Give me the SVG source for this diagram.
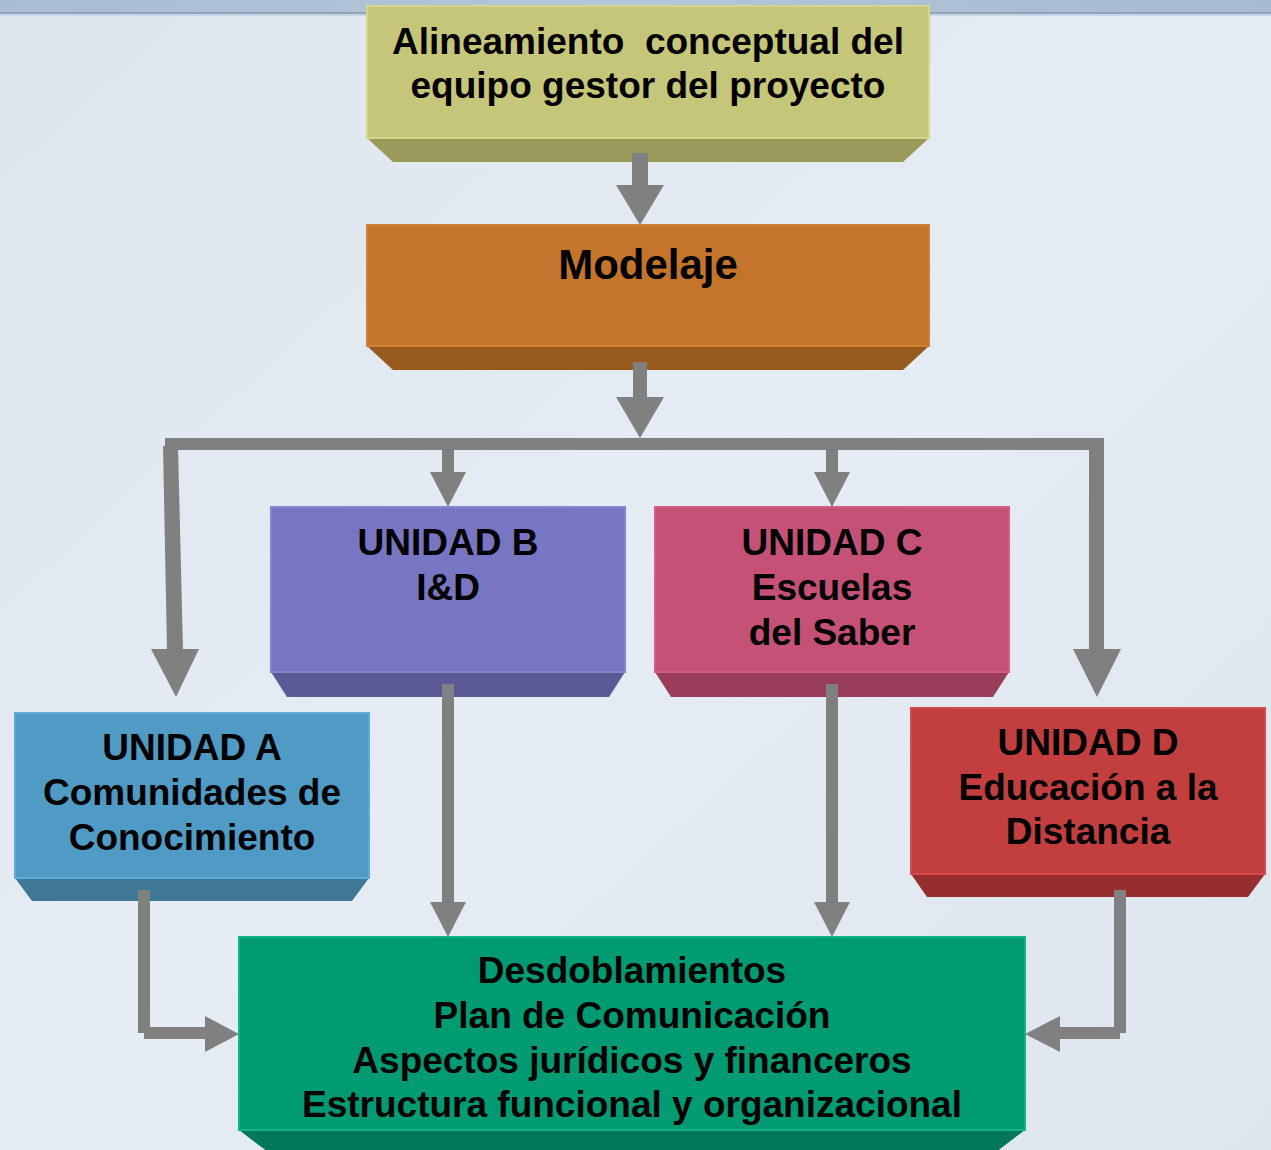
<svg xmlns="http://www.w3.org/2000/svg" width="1271" height="1150" viewBox="0 0 1271 1150">
<defs>
<linearGradient id="bg" x1="0" y1="0" x2="1" y2="1">
<stop offset="0" stop-color="#dce4ed"/>
<stop offset="0.5" stop-color="#e6ecf3"/>
<stop offset="1" stop-color="#dde5ee"/>
</linearGradient>
<linearGradient id="band" x1="0" y1="0" x2="1" y2="0">
<stop offset="0" stop-color="#a9bed3"/>
<stop offset="0.5" stop-color="#b3c6d9"/>
<stop offset="1" stop-color="#a6bbd0"/>
</linearGradient>
</defs>
<style>
text{font-family:"Liberation Sans",Arial,sans-serif;font-weight:bold;fill:#000;text-anchor:middle}
.t{font-size:37px}
.arr{fill:#808080}
</style>
<rect x="0" y="0" width="1271" height="1150" fill="url(#bg)"/>
<rect x="0" y="0" width="1271" height="13" fill="url(#band)"/>
<rect x="0" y="12" width="1271" height="2" fill="#8ea5bb"/>
<rect x="0" y="14" width="1271" height="2" fill="#c8d6e3"/>

<g id="node-alineamiento">
<polygon points="367,138 929,138 903,162 393,162" fill="#9a9a5a"/>
<rect x="367" y="6" width="562" height="132" fill="#c6c67a" stroke="#d6d68a" stroke-width="2"/>
<text class="t" x="648" y="54" xml:space="preserve">Alineamiento  conceptual del</text>
<text class="t" x="648" y="98">equipo gestor del proyecto</text>
</g>

<g id="node-modelaje">
<polygon points="367,346 929,346 903,370 393,370" fill="#965a1f"/>
<rect x="367" y="225" width="562" height="121" fill="#c4742b" stroke="#d08035" stroke-width="2"/>
<text x="648" y="279" font-size="42">Modelaje</text>
</g>

<g id="node-unidad-b">
<polygon points="271,672 625,672 609,697 287,697" fill="#5c5a95"/>
<rect x="271" y="507" width="354" height="165" fill="#7876c2" stroke="#8583d2" stroke-width="2"/>
<text class="t" x="448" y="555">UNIDAD B</text>
<text class="t" x="448" y="600">I&amp;D</text>
</g>

<g id="node-unidad-c">
<polygon points="655,672 1009,672 993,697 671,697" fill="#9a3d5a"/>
<rect x="655" y="507" width="354" height="165" fill="#c55176" stroke="#d25e83" stroke-width="2"/>
<text class="t" x="832" y="555">UNIDAD C</text>
<text class="t" x="832" y="600">Escuelas</text>
<text class="t" x="832" y="645">del Saber</text>
</g>

<g id="node-unidad-a">
<polygon points="15,878 369,878 352,901 32,901" fill="#3d7897"/>
<rect x="15" y="713" width="354" height="165" fill="#4f9bc5" stroke="#5eaad5" stroke-width="2"/>
<text class="t" x="192" y="760">UNIDAD A</text>
<text class="t" x="192" y="805">Comunidades de</text>
<text class="t" x="192" y="850">Conocimiento</text>
</g>

<g id="node-unidad-d">
<polygon points="911,874 1265,874 1248,897 927,897" fill="#962d2e"/>
<rect x="911" y="708" width="354" height="166" fill="#c33e3f" stroke="#d24a4b" stroke-width="2"/>
<text class="t" x="1088" y="755">UNIDAD D</text>
<text class="t" x="1088" y="800">Educación a la</text>
<text class="t" x="1088" y="844">Distancia</text>
</g>

<g id="node-desdoblamientos">
<polygon points="239,1130 1025,1130 996,1152 268,1152" fill="#00795a"/>
<rect x="239" y="937" width="786" height="193" fill="#009b73" stroke="#12b287" stroke-width="2"/>
<text class="t" x="632" y="983">Desdoblamientos</text>
<text class="t" x="632" y="1028">Plan de Comunicación</text>
<text class="t" x="632" y="1073">Aspectos jurídicos y financeros</text>
<text class="t" x="632" y="1117">Estructura funcional y organizacional</text>
</g>

<g id="connectors" class="arr">
<!-- top to modelaje -->
<rect x="632" y="153" width="16" height="33"/>
<polygon points="616,185 664,185 640,225"/>
<!-- modelaje to bar -->
<rect x="633" y="362" width="14" height="36"/>
<polygon points="616,397 664,397 640,438"/>
<!-- horizontal bar -->
<rect x="165" y="438" width="939" height="12"/>
<!-- left branch to A -->
<polygon points="163,446 178,446 183,650 167,650"/>
<polygon points="151,649 199,649 176,697"/>
<!-- right branch to D -->
<rect x="1089" y="438" width="15" height="212"/>
<polygon points="1073,649 1121,649 1097,697"/>
<!-- to B -->
<rect x="442" y="449" width="12" height="24"/>
<polygon points="430,472 466,472 448,507"/>
<!-- to C -->
<rect x="826" y="449" width="12" height="24"/>
<polygon points="814,472 850,472 832,507"/>
<!-- B to green -->
<rect x="442" y="684" width="12" height="219"/>
<polygon points="430,902 466,902 448,937"/>
<!-- C to green -->
<rect x="826" y="684" width="12" height="219"/>
<polygon points="814,902 850,902 832,937"/>
<!-- A to green -->
<rect x="138" y="890" width="12" height="143"/>
<rect x="144" y="1027" width="62" height="12"/>
<polygon points="205,1016 205,1052 239,1034"/>
<!-- D to green -->
<rect x="1114" y="890" width="12" height="143"/>
<rect x="1059" y="1027" width="61" height="12"/>
<polygon points="1060,1016 1060,1052 1025,1034"/>
</g>
</svg>
